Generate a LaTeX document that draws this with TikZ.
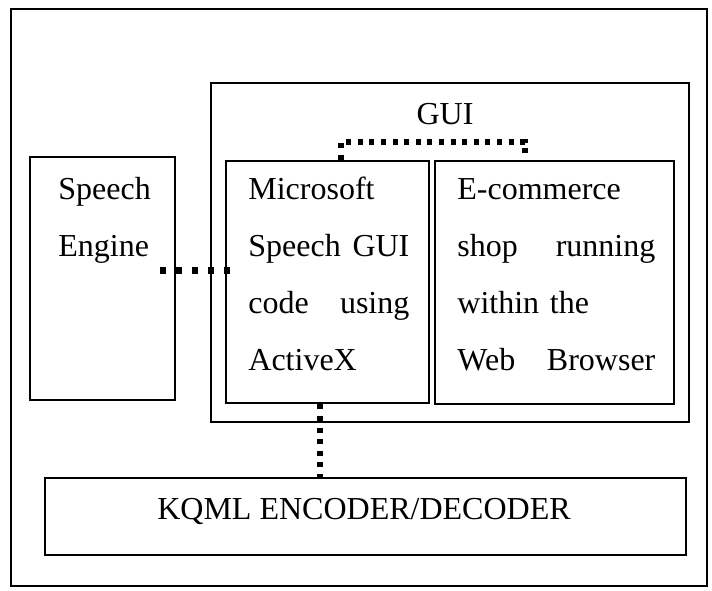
\documentclass[tikz,border=0pt]{standalone}
\usepackage{fontspec}
\setmainfont{Liberation Serif}
\usetikzlibrary{calc}
\tikzset{
  box/.style={draw=black, line width=1.4pt, inner sep=0pt, anchor=center},
  txt/.style={inner sep=0pt, anchor=base west, align=left,
    font=\fontsize{16}{28.5}\selectfont},
  lbl/.style={inner sep=0pt, anchor=base, font=\fontsize{16}{28.5}\selectfont},
  bigdots/.style={line width=3.5pt, dash pattern=on 3pt off 5pt},
  smalldots/.style={line width=3pt, dash pattern=on 2.5pt off 3.3pt},
}
\begin{document}
\begin{tikzpicture}[x=0.5pt, y=-0.5pt]
\useasboundingbox (0,0) rectangle (712,590);
% frames
\node[box, minimum width=348pt, minimum height=288.5pt] (outer) at (359,297.5) {};
\node[box, minimum width=239pt, minimum height=169.5pt] (gui) at (450,252.5) {};
\node[box, minimum width=72.5pt, minimum height=121.5pt] (se) at (102.5,278.5) {};
\node[box, minimum width=101.5pt, minimum height=121pt] (ms) at (327.5,282) {};
\node[box, minimum width=119.5pt, minimum height=121.5pt] (ec) at (554.5,282.5) {};
\node[box, minimum width=320.5pt, minimum height=38.5pt] (kqml) at (365.5,516.5) {};
% labels
\node[lbl] (guilbl) at (445,124) {GUI};
\node[lbl] (kqmllbl) at (364,519) {KQML ENCODER/DECODER};
\node[txt, text width=60pt] (setxt) at (58,199) {Speech\\Engine};
\node[txt, text width=80.5pt] (mstxt) at (248,199)
  {Microsoft\\Speech\hfill GUI\\code\hfill using\\ActiveX};
\node[txt, text width=99pt] (ectxt) at (457,199)
  {E-commerce\\shop\hfill running\\within the\\Web\hfill Browser};
% connectors
\coordinate (lvl) at (0,270);
\draw[bigdots, shorten <=-8pt, shorten >=-7.5pt] (se.east |- lvl) -- (ms.west |- lvl);
\draw[smalldots] ([xshift=6.75pt]ms.north) -- ++(0,-18) -| ([xshift=-14.75pt]ec.north);
\draw[smalldots] ([xshift=-3.75pt]ms.south) -- ([xshift=-3.75pt]ms.south |- kqml.north);
\end{tikzpicture}
\end{document}
